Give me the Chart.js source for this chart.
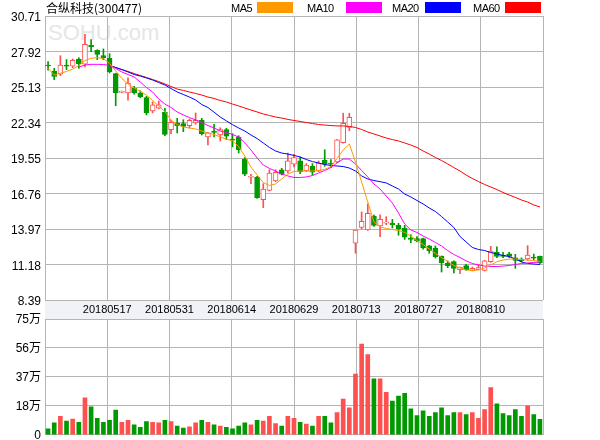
<!DOCTYPE html>
<html>
<head>
<meta charset="utf-8">
<script src="https://cdn.jsdelivr.net/npm/chart.js@4.4.1/dist/chart.umd.min.js"></script>
<style>
  html, body { margin: 0; padding: 0; background: #fff; }
  #wrap { position: relative; width: 600px; height: 440px; overflow: hidden; }
  #wrap canvas { position: absolute; left: 0; }
  .txt { position: absolute; font: 12px 'Noto Sans CJK SC', 'Liberation Sans', sans-serif; color: #000; white-space: nowrap; line-height: 12px; }
  .lg { position: absolute; font: 11px 'Liberation Sans', sans-serif; color: #000; line-height: 12px; letter-spacing: -0.5px; }
  .box { position: absolute; top: 2px; height: 11px; width: 36px; }
  #mark { position: absolute; left: 48px; top: 20px; font: 22px 'Liberation Sans', sans-serif; color: #e6e6e6; letter-spacing: 0px; }
</style>
</head>
<body>
<div id="wrap">
  <div id="mark">SOHU.com</div>
  <canvas id="kline" width="600" height="320" style="top:0"></canvas>
  <canvas id="vol" width="600" height="146" style="top:300px"></canvas>
  <div class="txt" style="left:46px;top:2px">合纵科技(300477)</div>
  <div class="lg" style="left:231px;top:2px">MA5</div><div class="box" style="left:257px;background:#ff9900"></div>
  <div class="lg" style="left:307px;top:2px">MA10</div><div class="box" style="left:346px;background:#ff00ff"></div>
  <div class="lg" style="left:392px;top:2px">MA20</div><div class="box" style="left:425px;background:#0000ff"></div>
  <div class="lg" style="left:473px;top:2px">MA60</div><div class="box" style="left:505px;background:#ff0000"></div>
</div>
<script>
// 交易日
const dates = [
  '20180503','20180504','20180507','20180508','20180509','20180510','20180511','20180514','20180515','20180516',
  '20180517','20180518','20180521','20180522','20180523','20180524','20180525','20180528','20180529','20180530',
  '20180531','20180601','20180604','20180605','20180606','20180607','20180608','20180611','20180612','20180613',
  '20180614','20180615','20180619','20180620','20180621','20180622','20180625','20180626','20180627','20180628',
  '20180629','20180702','20180703','20180704','20180705','20180706','20180709','20180710','20180711','20180712',
  '20180713','20180716','20180717','20180718','20180719','20180720','20180723','20180724','20180725','20180726',
  '20180727','20180730','20180731','20180801','20180802','20180803','20180806','20180807','20180808','20180809',
  '20180810','20180813','20180814','20180815','20180816','20180817','20180820','20180821','20180822','20180823',
  '20180824'
];

const openP = [
  26.86, 26.39, 26.13, 26.86, 26.76, 27.33, 26.92, 28.40, 28.02, 27.59,
  27.39, 26.18, 24.71, 24.66, 25.03, 24.66, 24.29, 23.25, 23.46, 23.14,
  21.78, 22.30, 22.25, 22.09, 22.30, 22.51, 21.20, 21.67, 21.36, 21.78,
  21.04, 21.20, 19.47, 18.04, 18.06, 16.28, 17.01, 17.74, 18.63, 18.53,
  19.06, 19.32, 18.53, 18.90, 18.53, 19.37, 19.16, 19.24, 20.75, 21.96,
  12.85, 14.10, 13.89, 14.99, 14.21, 14.42, 14.42, 14.26, 14.05, 13.26,
  13.21, 13.21, 12.64, 12.48, 11.85, 11.30, 11.40, 10.77, 11.09, 10.72,
  10.77, 10.72, 11.40, 12.14, 11.93, 12.01, 11.71, 11.61, 11.61, 11.77,
  11.82
];
const closeP = [
  26.78, 25.97, 26.86, 26.76, 27.23, 26.96, 28.49, 28.30, 27.70, 27.44,
  26.33, 24.66, 24.76, 25.44, 24.66, 24.35, 23.09, 23.72, 23.72, 21.41,
  22.36, 22.09, 22.04, 22.51, 22.51, 21.46, 21.52, 21.57, 21.78, 21.26,
  20.96, 20.20, 18.27, 18.11, 16.43, 17.11, 18.37, 18.43, 18.27, 19.32,
  19.58, 18.48, 19.00, 18.43, 19.15, 19.06, 19.06, 20.97, 22.28, 22.75,
  13.89, 14.58, 15.21, 14.26, 14.73, 14.52, 14.31, 13.99, 13.32, 13.16,
  13.05, 12.48, 12.27, 11.79, 11.32, 11.09, 10.88, 10.98, 10.77, 10.88,
  10.93, 11.46, 12.24, 11.82, 11.82, 11.82, 11.51, 11.46, 11.93, 11.67,
  11.30
];
const highP = [
  27.12, 26.60, 27.59, 27.28, 27.33, 27.43, 29.27, 28.85, 28.06, 28.12,
  27.75, 26.21, 24.81, 25.86, 25.19, 24.82, 24.40, 23.96, 24.03, 23.46,
  22.51, 22.67, 22.56, 22.62, 23.09, 22.67, 21.57, 22.20, 21.93, 21.89,
  21.46, 21.30, 19.58, 18.27, 18.11, 17.53, 18.63, 18.63, 18.74, 19.94,
  19.84, 19.63, 19.11, 19.11, 19.32, 20.20, 19.42, 21.02, 23.07, 23.07,
  13.89, 15.31, 15.94, 15.06, 15.09, 14.94, 14.73, 14.42, 14.26, 13.52,
  13.37, 13.26, 12.69, 12.64, 11.85, 11.46, 11.46, 10.98, 11.19, 10.98,
  11.19, 11.51, 12.61, 12.56, 12.14, 12.14, 11.98, 11.70, 12.66, 12.00,
  11.85
];
const lowP = [
  26.45, 25.71, 26.02, 26.49, 26.65, 26.60, 26.70, 27.90, 27.28, 27.28,
  26.23, 23.66, 24.66, 24.09, 24.56, 24.29, 22.93, 23.09, 23.41, 21.30,
  21.46, 21.52, 21.62, 21.89, 22.20, 21.36, 20.57, 21.20, 20.89, 20.99,
  20.42, 19.94, 18.16, 17.53, 16.38, 15.65, 16.96, 17.69, 18.22, 18.37,
  18.85, 18.32, 18.48, 18.22, 18.48, 18.90, 18.79, 19.18, 20.72, 21.70,
  12.06, 13.99, 13.86, 14.18, 13.37, 14.31, 14.05, 13.48, 13.15, 12.89,
  12.95, 12.38, 12.06, 11.69, 10.59, 10.93, 10.51, 10.46, 10.72, 10.67,
  10.77, 10.67, 11.35, 11.72, 11.72, 11.72, 10.88, 11.40, 11.51, 11.55,
  11.25
];

// 成交量（万手）
const volume = [
  3.9, 7.7, 11.9, 8.9, 10.2, 8.1, 23.9, 18.1, 10.6, 8.1,
  9.4, 16.0, 8.1, 9.4, 6.5, 4.8, 8.5, 8.1, 7.7, 9.4,
  8.5, 5.6, 4.4, 5.2, 7.7, 9.4, 8.1, 6.5, 5.6, 4.8,
  3.9, 5.6, 7.7, 6.5, 9.4, 8.9, 11.9, 7.3, 5.6, 11.9,
  10.6, 8.1, 6.9, 5.6, 11.9, 11.9, 7.7, 14.4, 23.1, 17.5,
  39.4, 58.8, 51.9, 36.3, 36.3, 27.5, 21.9, 25.0, 26.9, 16.9,
  12.5, 15.6, 11.9, 14.4, 17.5, 12.5, 14.4, 14.4, 13.1, 14.4,
  10.6, 16.3, 30.6, 20.0, 13.8, 12.5, 16.3, 11.9, 18.8, 13.1,
  10.0
];

// 均线
const ma5 = [
  26.60, 26.07, 26.21, 26.35, 26.53, 26.82, 27.21, 27.39, 27.43, 27.37,
  26.98, 26.39, 25.80, 25.37, 25.05, 24.80, 24.50, 24.07, 23.64, 23.20,
  22.54, 22.18, 21.99, 21.91, 21.83, 21.67, 21.52, 21.40, 21.20, 21.04,
  20.89, 20.45, 19.71, 18.84, 18.21, 17.62, 17.39, 17.51, 17.90, 18.29,
  18.49, 18.53, 18.53, 18.53, 18.57, 18.65, 18.88, 19.51, 20.18, 20.65,
  19.24, 17.66, 16.09, 14.52, 14.13, 14.01, 13.93, 13.85, 13.70, 13.42,
  13.07, 12.75, 12.40, 12.04, 11.73, 11.42, 11.10, 10.91, 10.75, 10.71,
  10.75, 10.91, 11.14, 11.40, 11.53, 11.61, 11.61, 11.57, 11.53, 11.49,
  11.42
];
const ma10 = [
  null, null, null, null, null, 26.70, 26.86, 26.91, 26.91, 26.90,
  26.82, 26.58, 26.31, 26.11, 25.92, 25.52, 25.09, 24.74, 24.19, 23.79,
  23.52, 23.17, 22.93, 22.73, 22.54, 22.34, 22.10, 21.91, 21.67, 21.55,
  21.40, 21.20, 20.73, 20.18, 19.55, 19.00, 18.73, 18.53, 18.29, 18.14,
  18.02, 18.02, 18.06, 18.17, 18.37, 18.57, 18.80, 19.16, 19.47, 19.47,
  19.08, 18.57, 18.06, 17.51, 17.11, 16.56, 16.01, 15.23, 14.36, 13.89,
  13.70, 13.42, 13.18, 12.91, 12.63, 12.28, 11.97, 11.73, 11.46, 11.26,
  11.14, 11.06, 11.02, 11.02, 11.06, 11.10, 11.18, 11.26, 11.30, 11.34,
  11.38
];
const ma20 = [
  null, null, null, null, null, null, null, null, null, null,
  26.82, 26.66, 26.50, 26.31, 26.11, 25.99, 25.84, 25.68, 25.48, 25.29,
  25.01, 24.74, 24.54, 24.34, 24.11, 23.75, 23.52, 23.15, 22.77, 22.47,
  22.17, 21.91, 21.67, 21.36, 21.08, 20.73, 20.38, 20.10, 19.94, 19.86,
  19.75, 19.63, 19.43, 19.27, 19.16, 19.04, 18.96, 18.92, 18.88, 18.76,
  18.53, 18.14, 17.90, 17.78, 17.69, 17.59, 17.35, 17.11, 16.72, 16.49,
  16.21, 15.94, 15.62, 15.35, 14.95, 14.52, 14.09, 13.38, 12.95, 12.52,
  12.36, 12.28, 12.12, 12.01, 11.89, 11.81, 11.61, 11.38, 11.26, 11.22,
  11.18
];
const ma60 = [
  null, null, null, null, null, null, null, null, null, null,
  26.82, 26.66, 26.50, 26.35, 26.19, 26.03, 25.88, 25.72, 25.56, 25.37,
  25.17, 24.97, 24.86, 24.74, 24.62, 24.50, 24.34, 24.23, 24.07, 23.95,
  23.79, 23.64, 23.48, 23.32, 23.17, 23.01, 22.89, 22.77, 22.69, 22.58,
  22.50, 22.42, 22.34, 22.26, 22.18, 22.14, 22.10, 22.07, 22.07, 22.03,
  21.95, 21.79, 21.59, 21.44, 21.28, 21.12, 21.00, 20.89, 20.73, 20.57,
  20.38, 20.10, 19.86, 19.59, 19.35, 19.08, 18.80, 18.53, 18.21, 17.94,
  17.70, 17.47, 17.27, 17.07, 16.84, 16.64, 16.45, 16.25, 16.09, 15.86,
  15.70
];

const priceTicks = [8.39, 11.18, 13.97, 16.76, 19.55, 22.34, 25.13, 27.92, 30.71];
const volTicks = [0, 18.75, 37.5, 56.25, 75];
const volTickLabels = ['0', '18万', '37万', '56万', '75万'];
const dateEvery = 10; // 每格 10 个交易日
const gridCols = [0, 1, 2, 3, 4, 5, 6, 7, 8];

const UP = '#ff5050';
const DOWN = '#009900';
const GRID = '#b4b4b4';
const TICK_FONT = { family: "'Liberation Sans', 'Noto Sans CJK SC', sans-serif", size: 11 };

const isUp = closeP.map((c, i) => c >= openP[i]);

// 8 等分的日期轴和竖网格（bar 图默认给 x 轴加了 offset，这里关掉）
function gridScale(extra) {
  return Object.assign({
    type: 'linear', position: 'bottom', min: 0, max: 8, offset: false,
    afterBuildTicks: s => { s.ticks = gridCols.map(v => ({ value: v })); },
    grid: { color: GRID, drawTicks: false, offset: false },
    border: { display: false }
  }, extra);
}

// 日期条背景
const bandPlugin = {
  id: 'band',
  beforeDraw(chart) {
    const a = chart.chartArea;
    const ctx = chart.ctx;
    ctx.save();
    ctx.fillStyle = '#f0f2f8';
    ctx.fillRect(a.left, a.bottom + 1, a.right - a.left, 19);
    ctx.restore();
  }
};

function maLine(label, data, color) {
  return { type: 'line', label, data, borderColor: color, borderWidth: 1, pointRadius: 0, tension: 0, order: 0 };
}

new Chart(document.getElementById('kline'), {
  type: 'bar',
  data: {
    labels: dates,
    datasets: [
      maLine('MA5', ma5, '#ff9900'),
      maLine('MA10', ma10, '#ff00ff'),
      maLine('MA20', ma20, '#0000ff'),
      maLine('MA60', ma60, '#ff0000'),
      {
        label: 'body',
        data: dates.map((d, i) => [openP[i], closeP[i]]),
        backgroundColor: isUp.map(u => u ? '#ffffff' : DOWN),
        borderColor: isUp.map(u => u ? UP : DOWN),
        borderWidth: 1,
        borderSkipped: false,
        barThickness: 5,
        minBarLength: 1,
        grouped: false,
        order: 1
      },
      {
        label: 'wick',
        data: dates.map((d, i) => [lowP[i], highP[i]]),
        backgroundColor: isUp.map(u => u ? UP : DOWN),
        barThickness: 1,
        grouped: false,
        order: 2
      }
    ]
  },
  options: {
    responsive: false,
    animation: false,
    layout: { padding: { left: 0, right: 57, top: 16, bottom: 0 } },
    plugins: { legend: { display: false }, tooltip: { enabled: false } },
    scales: {
      x: { display: false, offset: true },
      xg: gridScale({
        ticks: {
          font: TICK_FONT, color: '#000', padding: 3, maxRotation: 0, autoSkip: false,
          callback: v => (v > 0 && v < 8) ? dates[v * dateEvery] : ''
        },
        afterFit: s => { s.height = 20; }
      }),
      y: {
        min: 8.39, max: 30.71,
        afterBuildTicks: s => { s.ticks = priceTicks.map(v => ({ value: v })); },
        ticks: { font: { family: TICK_FONT.family, size: 12 }, color: '#000', padding: 4, labelOffset: 2, callback: v => v.toFixed(2) },
        grid: { color: GRID, drawTicks: false },
        border: { color: GRID },
        afterFit: s => { s.width = 45; }
      }
    }
  },
  plugins: [bandPlugin]
});

new Chart(document.getElementById('vol'), {
  type: 'bar',
  data: {
    labels: dates,
    datasets: [{
      data: volume,
      backgroundColor: isUp.map(u => u ? UP : DOWN),
      barThickness: 4
    }]
  },
  options: {
    responsive: false,
    animation: false,
    layout: { padding: { left: 0, right: 57, top: 19, bottom: 7 } },
    plugins: { legend: { display: false }, tooltip: { enabled: false } },
    scales: {
      x: { display: false, offset: true },
      xg: gridScale({ ticks: { display: false }, afterFit: s => { s.height = 0; } }),
      y: {
        min: 0, max: 75,
        afterBuildTicks: s => { s.ticks = volTicks.map(v => ({ value: v })); },
        ticks: { font: { family: TICK_FONT.family, size: 12 }, color: '#000', padding: 4, labelOffset: 1, callback: (v, i) => volTickLabels[i] },
        grid: { color: GRID, drawTicks: false },
        border: { color: GRID },
        afterFit: s => { s.width = 45; }
      }
    }
  }
});
</script>
</body>
</html>
